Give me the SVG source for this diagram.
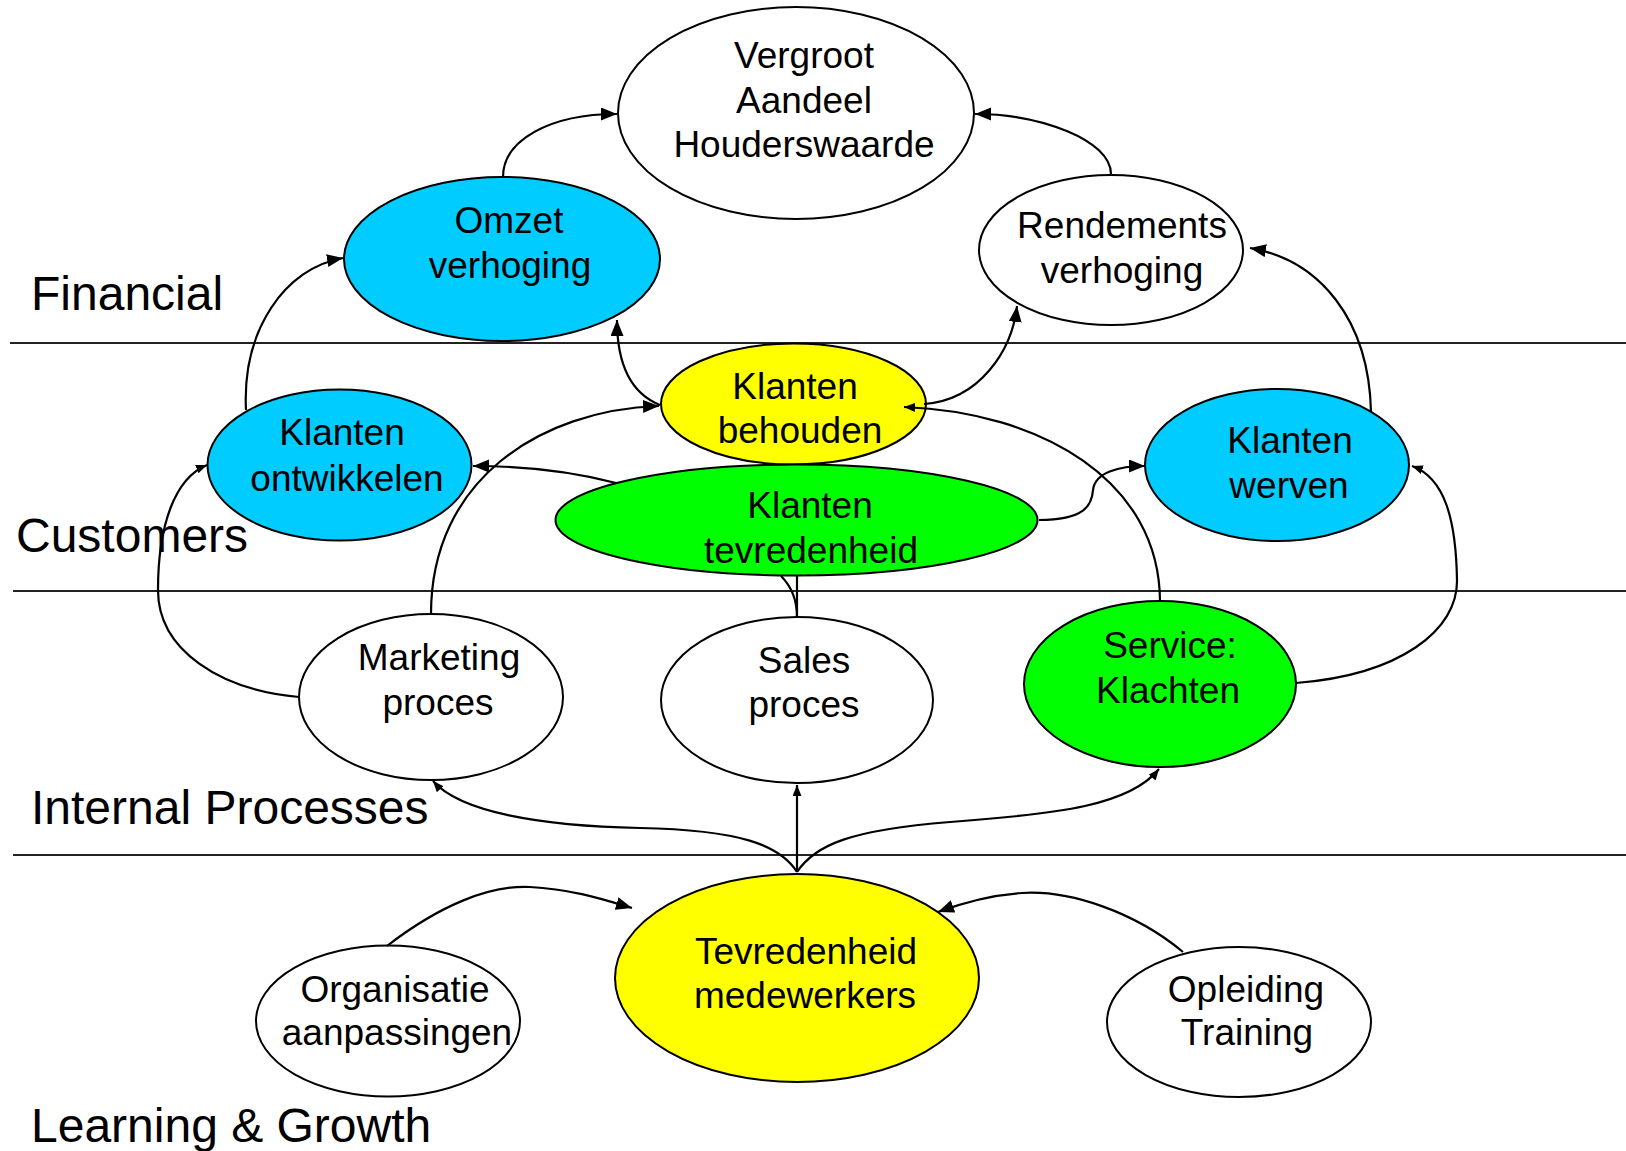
<svg xmlns="http://www.w3.org/2000/svg" width="1626" height="1151" viewBox="0 0 1626 1151">
<style>
  .n { stroke:#000; stroke-width:2; }
  .w { fill:#fff; }
  .c { fill:#00CCFF; }
  .y { fill:#FFFF00; }
  .g { fill:#00FF00; }
  .t { font-family:"Liberation Sans", Arial, sans-serif; font-size:37px; fill:#000; text-anchor:middle; }
  .s { font-family:"Liberation Sans", Arial, sans-serif; font-size:48px; fill:#000; }
  .sep { stroke:#222; stroke-width:2; }
  .e { fill:none; stroke:#000; stroke-width:2.2; }
  .eb { marker-end:url(#big); }
  .es { marker-end:url(#small); }
</style>
<defs>
  <marker id="big" markerUnits="userSpaceOnUse" markerWidth="18" markerHeight="14" refX="16" refY="6.5" orient="auto">
    <path d="M0,0 L16,6.5 L0,13 z" fill="#000"/>
  </marker>
  <marker id="small" markerUnits="userSpaceOnUse" markerWidth="13" markerHeight="10" refX="11" refY="4.5" orient="auto">
    <path d="M0,0 L11,4.5 L0,9 z" fill="#000"/>
  </marker>
</defs>
<rect width="1626" height="1151" fill="#fff"/>
<g id="lanes">
  <line class="sep" x1="10" y1="343" x2="1626" y2="343"/>
  <line class="sep" x1="13" y1="591" x2="1626" y2="591"/>
  <line class="sep" x1="13" y1="855" x2="1626" y2="855"/>
  <text class="s" x="31" y="310">Financial</text>
  <text class="s" x="16" y="552">Customers</text>
  <text class="s" x="31" y="824">Internal Processes</text>
  <text class="s" x="31" y="1142">Learning &amp; Growth</text>
</g>
<g id="vergroot"><ellipse class="n w" cx="796" cy="113" rx="178" ry="106"/>
  <text class="t" x="804" y="68">Vergroot</text><text class="t" x="804" y="113">Aandeel</text><text class="t" x="804" y="157">Houderswaarde</text></g>
<g id="omzet"><ellipse class="n c" cx="502" cy="259" rx="158" ry="82"/>
  <text class="t" x="509" y="233">Omzet</text><text class="t" x="510" y="278">verhoging</text></g>
<g id="rendements"><ellipse class="n w" cx="1111" cy="250" rx="132" ry="75"/>
  <text class="t" x="1122" y="238">Rendements</text><text class="t" x="1122" y="283">verhoging</text></g>
<g id="ontwikkelen"><ellipse class="n c" cx="339.5" cy="465" rx="132" ry="75.5"/>
  <text class="t" x="342" y="445">Klanten</text><text class="t" x="347" y="491">ontwikkelen</text></g>
<g id="behouden"><ellipse class="n y" cx="793.5" cy="404" rx="132.5" ry="60.5"/>
  <text class="t" x="795" y="399">Klanten</text><text class="t" x="800" y="443">behouden</text></g>
<g id="werven"><ellipse class="n c" cx="1277" cy="465" rx="132" ry="76"/>
  <text class="t" x="1290" y="453">Klanten</text><text class="t" x="1289" y="498">werven</text></g>
<g id="tevredenheid"><ellipse class="n g" cx="796.5" cy="520" rx="241" ry="55.5"/>
  <text class="t" x="810" y="518">Klanten</text><text class="t" x="811" y="563">tevredenheid</text></g>
<g id="marketing"><ellipse class="n w" cx="431" cy="697" rx="132" ry="83"/>
  <text class="t" x="439" y="670">Marketing</text><text class="t" x="438" y="715">proces</text></g>
<g id="sales"><ellipse class="n w" cx="797" cy="700" rx="136" ry="83"/>
  <text class="t" x="804" y="673">Sales</text><text class="t" x="804" y="717">proces</text></g>
<g id="service"><ellipse class="n g" cx="1160" cy="684" rx="136" ry="83"/>
  <text class="t" x="1170" y="658">Service:</text><text class="t" x="1168" y="703">Klachten</text></g>
<g id="medewerkers"><ellipse class="n y" cx="797" cy="978" rx="182" ry="104"/>
  <text class="t" x="806" y="964">Tevredenheid</text><text class="t" x="805" y="1008">medewerkers</text></g>
<g id="organisatie"><ellipse class="n w" cx="388" cy="1021" rx="132" ry="75.5"/>
  <text class="t" x="395" y="1002">Organisatie</text><text class="t" x="397" y="1045">aanpassingen</text></g>
<g id="opleiding"><ellipse class="n w" cx="1239" cy="1022" rx="132" ry="75"/>
  <text class="t" x="1246" y="1002">Opleiding</text><text class="t" x="1247" y="1045">Training</text></g>
<g id="connectors">
  <path class="e eb" d="M503,177 C503,140 550,114 617,114"/>
  <path class="e eb" d="M1111,174 C1111,140 1040,114 975,114"/>
  <path class="e eb" d="M246,410 C242,330 285,268 343,258"/>
  <path class="e eb" d="M660,405 C635,395 617,370 617,320"/>
  <path class="e eb" d="M431,614 C431,480 540,410 659,406"/>
  <path class="e eb" d="M924,404 C980,400 1012,350 1017,306"/>
  <path class="e es" d="M1160,602 C1160,480 1040,412 904,407"/>
  <path class="e eb" d="M616,483 C570,471 520,466 473,466"/>
  <path class="e eb" d="M1039,520 C1085,520 1092,505 1093,490 C1095,472 1120,466 1145,466"/>
  <path class="e eb" d="M1371,412 C1369,320 1320,260 1250,248"/>
  <path class="e es" d="M1296,683 C1400,675 1458,630 1457,580 C1456,520 1445,478 1412,466"/>
  <path class="e es" d="M299,697 C220,690 158,650 158,590 C158,525 175,478 207,465"/>
  <path class="e" d="M797,617 L797,576"/>
  <path class="e" d="M797,617 C797,598 790,585 781,576"/>
  <path class="e es" d="M797,872 L797,785"/>
  <path class="e es" d="M797,872 C780,845 740,830 640,828 C540,826 460,812 433,781"/>
  <path class="e es" d="M797,872 C815,845 850,830 950,822 C1060,814 1130,805 1159,769"/>
  <path class="e eb" d="M387,946 C440,905 490,885 530,887 C572,889 605,900 632,908"/>
  <path class="e eb" d="M1183,952 C1135,912 1070,890 1022,893 C990,895 962,903 938,912"/>
</g>
</svg>
